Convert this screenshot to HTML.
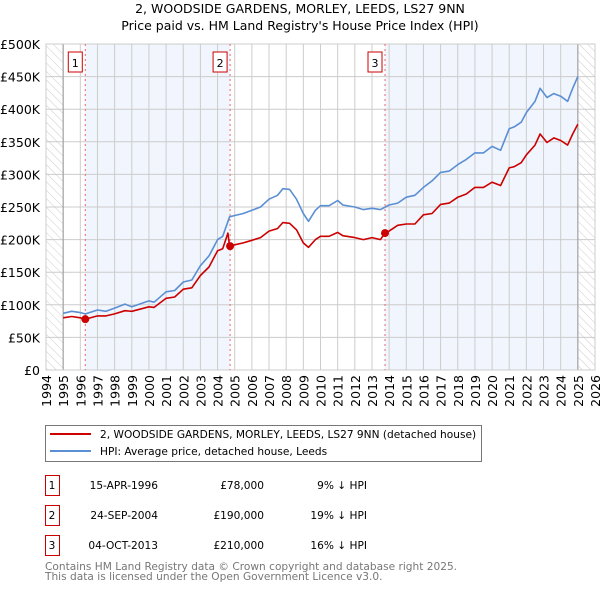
<!DOCTYPE html>
<html><head><meta charset="utf-8"><style>
body{margin:0;background:#fff;width:600px;height:590px;overflow:hidden;font-family:"DejaVu Sans","Liberation Sans",sans-serif;}
svg text{font-family:"DejaVu Sans","Liberation Sans",sans-serif;}
</style></head><body>
<svg id="chart" width="600" height="590" xmlns="http://www.w3.org/2000/svg">
<defs><pattern id="hatch" width="6" height="6" patternUnits="userSpaceOnUse" patternTransform="rotate(-45)"><line x1="0" y1="0" x2="0" y2="6" stroke="#ccc" stroke-width="1"/></pattern></defs>
<text x="300" y="13" text-anchor="middle" font-size="12.5">2, WOODSIDE GARDENS, MORLEY, LEEDS, LS27 9NN</text>
<text x="300" y="30" text-anchor="middle" font-size="12.5">Price paid vs. HM Land Registry's House Price Index (HPI)</text>
<g id="plot"></g>
<g>
<rect x="45.5" y="425.5" width="436" height="36" fill="#fff" stroke="#777"/>
<line x1="50" y1="434" x2="91" y2="434" stroke="#cc0000" stroke-width="2"/>
<text x="100" y="438" font-size="10.6">2, WOODSIDE GARDENS, MORLEY, LEEDS, LS27 9NN (detached house)</text>
<line x1="50" y1="451" x2="91" y2="451" stroke="#5b8fd4" stroke-width="2"/>
<text x="100" y="455" font-size="10.6">HPI: Average price, detached house, Leeds</text>
</g>
<g id="table" font-size="10.6"></g>
<text x="45" y="570" font-size="10.6" fill="#777">Contains HM Land Registry data © Crown copyright and database right 2025.</text>
<text x="45" y="580" font-size="10.6" fill="#777">This data is licensed under the Open Government Licence v3.0.</text>
</svg>
<script>
const hpiYears=[1995,1995.5,1996,1996.3,1997,1997.5,1998,1998.6,1999,2000,2000.3,2001,2001.5,2002,2002.5,2003,2003.5,2004,2004.3,2004.7,2005,2005.5,2006,2006.5,2007,2007.5,2007.8,2008.2,2008.6,2009,2009.3,2009.7,2010,2010.5,2011,2011.3,2012,2012.5,2013,2013.5,2014,2014.5,2015,2015.5,2016,2016.5,2017,2017.5,2018,2018.5,2019,2019.5,2020,2020.5,2021,2021.3,2021.7,2022,2022.5,2022.8,2023.2,2023.6,2024,2024.4,2024.7,2025];
const hpiValues=[87,90,88,86,92,90,95,101,97,106,104,120,122,135,138,160,175,200,205,235,237,240,245,250,262,268,278,277,262,240,228,245,252,252,260,253,250,246,248,246,253,256,265,268,280,290,303,305,315,323,333,333,343,337,370,373,380,395,412,432,418,424,420,412,432,450];
const priceYears=[1995,1995.5,1996,1996.3,1997,1997.5,1998,1998.6,1999,2000,2000.3,2001,2001.5,2002,2002.5,2003,2003.5,2004,2004.3,2004.6,2004.7,2005,2005.5,2006,2006.5,2007,2007.5,2007.8,2008.2,2008.6,2009,2009.3,2009.7,2010,2010.5,2011,2011.3,2012,2012.5,2013,2013.5,2013.75,2014,2014.5,2015,2015.5,2016,2016.5,2017,2017.5,2018,2018.5,2019,2019.5,2020,2020.5,2021,2021.3,2021.7,2022,2022.5,2022.8,2023.2,2023.6,2024,2024.4,2024.7,2025];
const priceValues=[80,82,80,78,83,83,86,91,90,97,96,110,112,124,126,145,158,183,186,210,190,192,195,199,203,213,217,226,225,215,195,188,200,205,205,211,206,203,200,203,200,210,213,222,224,224,238,240,254,256,265,270,280,280,288,283,310,312,318,330,345,362,349,356,352,345,362,377];
const saleLabels=["1","2","3"];
const saleYears=[1996.29,2004.73,2013.76];
const saleValues=[78,190,210];
const saleDates=["15-APR-1996","24-SEP-2004","04-OCT-2013"];
const salePrices=["£78,000","£190,000","£210,000"];
const saleDiffs=["9% ↓ HPI","19% ↓ HPI","16% ↓ HPI"];
const yTicks=[0,50,100,150,200,250,300,350,400,450,500];
const yTickLabels=["£0","£50K","£100K","£150K","£200K","£250K","£300K","£350K","£400K","£450K","£500K"];
const xTicks=[1994,1995,1996,1997,1998,1999,2000,2001,2002,2003,2004,2005,2006,2007,2008,2009,2010,2011,2012,2013,2014,2015,2016,2017,2018,2019,2020,2021,2022,2023,2024,2025,2026];

const L=46,R=595,T=44,B=370,X0=1994,X1=2026,YMAX=500;
const xs=v=>L+(v-X0)/(X1-X0)*(R-L);
const ys=v=>B-v/YMAX*(B-T);
const NS="http://www.w3.org/2000/svg";
const plot=document.getElementById('plot');
function mk(tag,attrs,parent){const e=document.createElementNS(NS,tag);for(const k in attrs)e.setAttribute(k,attrs[k]);(parent||plot).appendChild(e);return e;}
mk('rect',{x:L,y:T,width:R-L,height:B-T,fill:'#fff'});
const sh1=mk('rect',{x:xs(saleYears[0]),y:T,width:xs(saleYears[1])-xs(saleYears[0]),height:B-T,fill:'#eef3fc',opacity:0.8});


const sh2=mk('rect',{x:xs(saleYears[2]),y:T,width:xs(2025)-xs(saleYears[2]),height:B-T,fill:'#eef3fc',opacity:0.8});


const h1=mk('rect',{x:L,y:T,width:xs(1995)-L,height:B-T,fill:'url(#hatch)'});


const h2=mk('rect',{x:xs(2025),y:T,width:R-xs(2025),height:B-T,fill:'url(#hatch)'});


yTicks.forEach((t,i)=>{
  mk('line',{x1:L,x2:R,y1:ys(t),y2:ys(t),stroke:'#ccc','stroke-width':1});
  const tx=mk('text',{x:L-6,y:ys(t)+5,'text-anchor':'end','font-size':12.5});
  tx.textContent=yTickLabels[i];
  
  
});
xTicks.forEach(t=>{
  mk('line',{x1:xs(t),x2:xs(t),y1:T,y2:B,stroke:'#ccc','stroke-width':1});
  const tx=mk('text',{x:0,y:0,'text-anchor':'end','font-size':12.5,transform:`translate(${xs(t)+5},${B+5}) rotate(-90)`});
  tx.textContent=String(t);
  
  
});
mk('line',{x1:xs(1995),x2:xs(1995),y1:T,y2:B,stroke:'#999','stroke-width':1});
mk('line',{x1:xs(2025),x2:xs(2025),y1:T,y2:B,stroke:'#999','stroke-width':1});
mk('rect',{x:L,y:T,width:R-L,height:B-T,fill:'none',stroke:'#ccc'});
saleYears.forEach((y,i)=>{
  const vl=mk('line',{x1:xs(y),x2:xs(y),y1:T,y2:B,stroke:'#e66','stroke-width':1,'stroke-dasharray':'2,3'});
  
  
  const bx=mk('rect',{x:xs(y)-17,y:T+8,width:14,height:20,fill:'#fff',stroke:'#c00'});
  
  
  const lt=mk('text',{x:xs(y)-10,y:T+23,'text-anchor':'middle','font-size':11});
  lt.textContent=saleLabels[i];
});
function line(xv,yv,color,name){
  const p=mk('path',{d:xv.map((x,i)=>(i?'L':'M')+xs(x).toFixed(1)+','+ys(yv[i]).toFixed(1)).join(''),fill:'none',stroke:color,'stroke-width':1.6,'stroke-linejoin':'round'});
  
  
}
line(hpiYears,hpiValues,'#5b8fd4','hpi-line');
line(priceYears,priceValues,'#cc0000','price-paid-line');
saleYears.forEach((y,i)=>{
  const c=mk('circle',{cx:xs(y),cy:ys(saleValues[i]),r:4,fill:'#cc0000'});
  
  
});
const tbl=document.getElementById('table');
saleLabels.forEach((l,i)=>{
  const y0=475+i*30;
  const b=mk('rect',{x:45.5,y:y0+0.5,width:14,height:20,fill:'#fff',stroke:'#c00'},tbl);
  
  
  const cells=[[52,'middle',l],[158,'end',saleDates[i]],[264,'end',salePrices[i]],[367,'end',saleDiffs[i]]];
  cells.forEach(c=>{const t=mk('text',{x:c[0],y:y0+14,'text-anchor':c[1]},tbl);t.textContent=c[2];
    
    });
});
</script>
</body></html>
